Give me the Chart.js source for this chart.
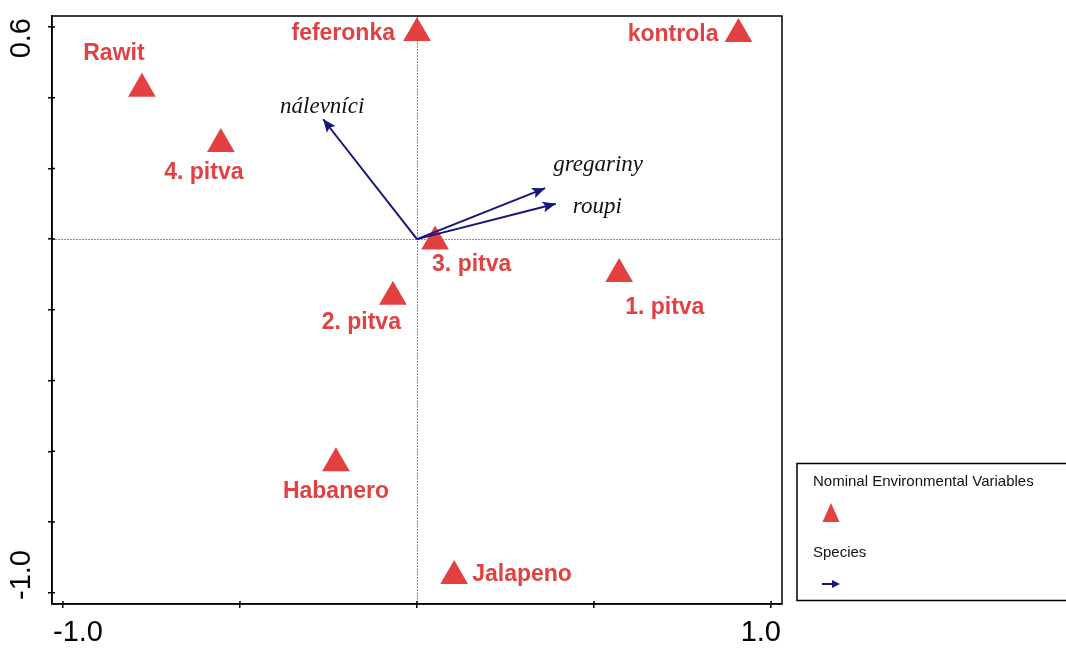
<!DOCTYPE html>
<html>
<head>
<meta charset="utf-8">
<script src="https://cdn.jsdelivr.net/npm/chart.js@4.4.0/dist/chart.umd.min.js"></script>
<style>
  html, body { margin: 0; padding: 0; background: #fff; }
</style>
</head>
<body>
<canvas id="ordination" width="1066" height="648"></canvas>
<script>
// nominal environmental variables (red triangles)
var envNames = ["Rawit", "4. pitva", "feferonka", "kontrola", "3. pitva", "1. pitva", "2. pitva", "Habanero", "Jalapeno"];
var envX = [-0.777, -0.554, 0.0, 0.908, 0.051, 0.571, -0.068, -0.229, 0.105];
var envY = [0.425, 0.269, 0.583, 0.580, -0.007, -0.099, -0.163, -0.634, -0.953];

// species arrows (from origin)
var spNames = ["nálevníci", "gregariny", "roupi"];
var spX = [-0.265, 0.362, 0.392];
var spY = [0.339, 0.144, 0.100];

// axes
var xTicks = [-1.0, -0.5, 0, 0.5, 1.0];
var yTicks = [-1.0, -0.8, -0.6, -0.4, -0.2, 0, 0.2, 0.4, 0.6];
var xLabelled = [-1.0, 1.0];
var yLabelled = [-1.0, 0.6];

var RED = "#e34141";
var NAVY = "#15157c";

// label placement next to each mark: [textAlign, dx, dy] in px
var envLabelPos = [
  ["center", -28, -35], ["center", -17, 29], ["right", -22, 1], ["right", -20, 1],
  ["left", -3, 23], ["left", 6, 34], ["right", 8, 26], ["center", 0, 28], ["left", 18, -1]
];
var spLabelPos = [["center", -1, -12], ["left", 8, -23], ["left", 17, 3]];

var envPoints = envX.map(function(x, i) { return { x: x, y: envY[i] }; });

var arrowSets = spNames.map(function(n, i) {
  return {
    type: "line",
    label: n,
    data: [{ x: 0, y: 0 }, { x: spX[i], y: spY[i] }],
    borderColor: NAVY,
    borderWidth: 2,
    pointRadius: 0,
    order: 0
  };
});

var ordPlugin = {
  id: "ordination",
  beforeDatasetsDraw: function(chart) {
    var ctx = chart.ctx, a = chart.chartArea;
    var x0 = Math.round(chart.scales.x.getPixelForValue(0)) + 0.5;
    var y0 = Math.round(chart.scales.y.getPixelForValue(0)) + 0.5;
    ctx.save();
    ctx.strokeStyle = "#8c8c8c";
    ctx.lineWidth = 1;
    ctx.setLineDash([2, 1]);
    ctx.beginPath();
    ctx.moveTo(x0, a.top); ctx.lineTo(x0, a.bottom);
    ctx.moveTo(a.left, y0); ctx.lineTo(a.right, y0);
    ctx.stroke();
    ctx.restore();
  },
  afterDatasetsDraw: function(chart) {
    var ctx = chart.ctx;
    ctx.save();
    // arrow heads + species names
    for (var i = 0; i < spNames.length; i++) {
      var meta = chart.getDatasetMeta(i + 1);
      var p0 = meta.data[0], p1 = meta.data[1];
      var ang = Math.atan2(p1.y - p0.y, p1.x - p0.x);
      var len = 13, w = 5.5;
      ctx.fillStyle = NAVY;
      ctx.beginPath();
      ctx.moveTo(p1.x, p1.y);
      ctx.lineTo(p1.x - len * Math.cos(ang) + w * Math.sin(ang), p1.y - len * Math.sin(ang) - w * Math.cos(ang));
      ctx.lineTo(p1.x - 0.8 * len * Math.cos(ang), p1.y - 0.8 * len * Math.sin(ang));
      ctx.lineTo(p1.x - len * Math.cos(ang) - w * Math.sin(ang), p1.y - len * Math.sin(ang) + w * Math.cos(ang));
      ctx.closePath();
      ctx.fill();

      ctx.fillStyle = "#111";
      ctx.font = "italic 23px 'Liberation Serif', 'DejaVu Serif', serif";
      ctx.textAlign = spLabelPos[i][0];
      ctx.textBaseline = "middle";
      ctx.fillText(spNames[i], p1.x + spLabelPos[i][1], p1.y + spLabelPos[i][2]);
    }
    // environmental variable names
    var em = chart.getDatasetMeta(0);
    ctx.fillStyle = RED;
    ctx.font = "bold 23px 'Liberation Sans', Arial, sans-serif";
    ctx.textBaseline = "middle";
    for (var j = 0; j < envNames.length; j++) {
      var pt = em.data[j];
      ctx.textAlign = envLabelPos[j][0];
      ctx.fillText(envNames[j], pt.x + envLabelPos[j][1], pt.y + envLabelPos[j][2]);
    }
    ctx.restore();
  },
  afterDraw: function(chart) {
    var ctx = chart.ctx, a = chart.chartArea;
    ctx.save();
    // frame
    ctx.strokeStyle = "#000";
    ctx.lineWidth = 1.5;
    ctx.strokeRect(a.left, a.top, a.right - a.left, a.bottom - a.top);

    // short inner part of the tick marks (they cross the frame)
    ctx.beginPath();
    xTicks.forEach(function(v) {
      var px = chart.scales.x.getPixelForValue(v);
      ctx.moveTo(px, a.bottom); ctx.lineTo(px, a.bottom - 3);
    });
    yTicks.forEach(function(v) {
      var py = chart.scales.y.getPixelForValue(v);
      ctx.moveTo(a.left, py); ctx.lineTo(a.left + 3, py);
    });
    ctx.stroke();

    // tick labels, kept inside the frame ends
    ctx.fillStyle = "#000";
    ctx.font = "29px 'Liberation Sans', Arial, sans-serif";
    ctx.textBaseline = "middle";
    xLabelled.forEach(function(v, k) {
      ctx.textAlign = k === 0 ? "left" : "right";
      var px = k === 0 ? a.left + 1 : a.right - 1;
      ctx.fillText(v.toFixed(1), px, a.bottom + 29);
    });
    yLabelled.forEach(function(v, k) {
      ctx.save();
      ctx.translate(22, k === 0 ? a.bottom - 4 : a.top + 2);
      ctx.rotate(-Math.PI / 2);
      ctx.textAlign = k === 0 ? "left" : "right";
      ctx.fillText(v.toFixed(1), 0, 0);
      ctx.restore();
    });

    // legend box
    ctx.lineWidth = 1.5;
    ctx.strokeRect(797, 463.5, 300, 137);
    ctx.font = "15px 'Liberation Sans Narrow', 'Liberation Sans', Arial, sans-serif";
    ctx.textAlign = "left";
    ctx.fillStyle = "#111";
    ctx.fillText("Nominal Environmental Variables", 813, 482);
    ctx.fillText("Species", 813, 553);
    ctx.fillStyle = RED;
    ctx.beginPath();
    ctx.moveTo(831, 503); ctx.lineTo(839.5, 522); ctx.lineTo(822.5, 522);
    ctx.closePath();
    ctx.fill();
    ctx.strokeStyle = NAVY;
    ctx.lineWidth = 2;
    ctx.beginPath();
    ctx.moveTo(822, 584); ctx.lineTo(834, 584);
    ctx.stroke();
    ctx.fillStyle = NAVY;
    ctx.beginPath();
    ctx.moveTo(840, 584); ctx.lineTo(832, 580); ctx.lineTo(832, 588);
    ctx.closePath();
    ctx.fill();
    ctx.restore();
  }
};

var ctx = document.getElementById("ordination").getContext("2d");
var chart = new Chart(ctx, {
  type: "scatter",
  data: {
    datasets: [{
      label: "Nominal Environmental Variables",
      data: envPoints,
      pointStyle: "triangle",
      pointRadius: 16,
      backgroundColor: RED,
      borderColor: RED,
      borderWidth: 0,
      order: 1
    }].concat(arrowSets)
  },
  options: {
    responsive: false,
    animation: false,
    devicePixelRatio: 1,
    layout: { padding: { left: 52, top: 16, right: 284, bottom: 44 } },
    plugins: { legend: { display: false }, tooltip: { enabled: false } },
    scales: {
      x: {
        type: "linear",
        min: -1.031,
        max: 1.031,
        afterBuildTicks: function(s) { s.ticks = xTicks.map(function(v) { return { value: v }; }); },
        afterFit: function(s) { s.height = 0; },
        ticks: { display: false },
        grid: { drawOnChartArea: false, drawTicks: true, tickLength: 4, color: "#000", lineWidth: 1.5 },
        border: { display: true, color: "#000", width: 1.5 }
      },
      y: {
        type: "linear",
        min: -1.032,
        max: 0.631,
        afterBuildTicks: function(s) { s.ticks = yTicks.map(function(v) { return { value: v }; }); },
        afterFit: function(s) { s.width = 0; },
        ticks: { display: false },
        grid: { drawOnChartArea: false, drawTicks: true, tickLength: 4, color: "#000", lineWidth: 1.5 },
        border: { display: true, color: "#000", width: 1.5 }
      }
    }
  },
  plugins: [ordPlugin]
});
</script>
</body>
</html>
